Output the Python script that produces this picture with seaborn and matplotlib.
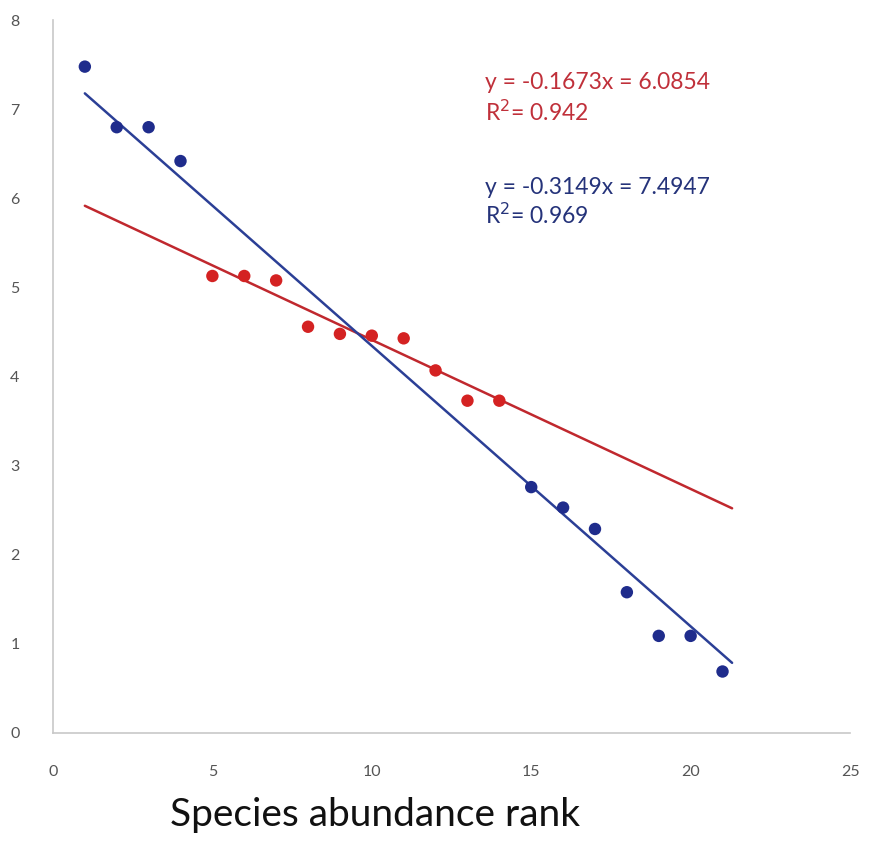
import numpy as np
import pandas as pd
import matplotlib
matplotlib.use("Agg")
import matplotlib.pyplot as plt
import seaborn as sns

# Data
blue_rank = [1, 2, 3, 4, 15, 16, 17, 18, 19, 20, 21]
blue_val = [7.48, 6.80, 6.80, 6.42, 2.76, 2.53, 2.29, 1.58, 1.09, 1.09, 0.69]
red_rank = [5, 6, 7, 8, 9, 10, 11, 12, 13, 14]
red_val = [5.13, 5.13, 5.08, 4.56, 4.48, 4.46, 4.43, 4.07, 3.73, 3.73]

red_slope, red_icpt = -0.1673, 6.0854
blue_slope, blue_icpt = -0.3149, 7.4947
line_x = [1, 21.3]

red_eq = ["y = -0.1673x = 6.0854", "R$^2$= 0.942"]
blue_eq = ["y = -0.3149x = 7.4947", "R$^2$= 0.969"]
xlabel = "Species abundance rank"
xticks = [0, 5, 10, 15, 20, 25]
yticks = [0, 1, 2, 3, 4, 5, 6, 7, 8]

BLUE = "#1f2c8c"
BLUE_LINE = "#2b3f96"
RED = "#d42222"
RED_LINE = "#c0282e"

sns.set_theme(style="white")
plt.rcParams["font.family"] = ["Lato", "DejaVu Sans"]

fig = plt.figure(figsize=(8.74, 8.46), dpi=100)
ax = fig.add_axes([0.0606, 0.1336, 0.912, 0.8424])

lx = np.array(line_x)
sns.lineplot(x=lx, y=red_slope * lx + red_icpt, color=RED_LINE, lw=1.8, ax=ax)
sns.lineplot(x=lx, y=blue_slope * lx + blue_icpt, color=BLUE_LINE, lw=1.8, ax=ax)
sns.scatterplot(x=red_rank, y=red_val, color=RED, s=80, edgecolor="none", ax=ax, zorder=3)
sns.scatterplot(x=blue_rank, y=blue_val, color=BLUE, s=80, edgecolor="none", ax=ax, zorder=3)

ax.set_xlim(0, 25)
ax.set_ylim(0, 8)
ax.set_xticks(xticks)
ax.set_yticks(yticks)
ax.set_xticklabels([str(t) for t in xticks], fontsize=11.5, color="#555555")
ax.set_yticklabels([str(t) for t in yticks], fontsize=11.5, color="#555555")
ax.tick_params(axis="x", length=0, pad=23)
ax.tick_params(axis="y", length=0, pad=24)
for s in ["top", "right"]:
    ax.spines[s].set_visible(False)
for s in ["left", "bottom"]:
    ax.spines[s].set_color("#c8c8c8")
    ax.spines[s].set_linewidth(1.2)

ax.text(0.542, 0.928, red_eq[0] + "\n" + red_eq[1], transform=ax.transAxes,
        color="#c0303a", fontsize=16.5, va="top", ha="left", linespacing=1.35)
ax.text(0.542, 0.780, blue_eq[0] + "\n" + blue_eq[1], transform=ax.transAxes,
        color="#25337a", fontsize=16.5, va="top", ha="left", linespacing=1.2)

fig.text(0.429, 0.037, xlabel, fontsize=28, color="#111111", ha="center", va="center")

fig.savefig("out.png", dpi=100)
